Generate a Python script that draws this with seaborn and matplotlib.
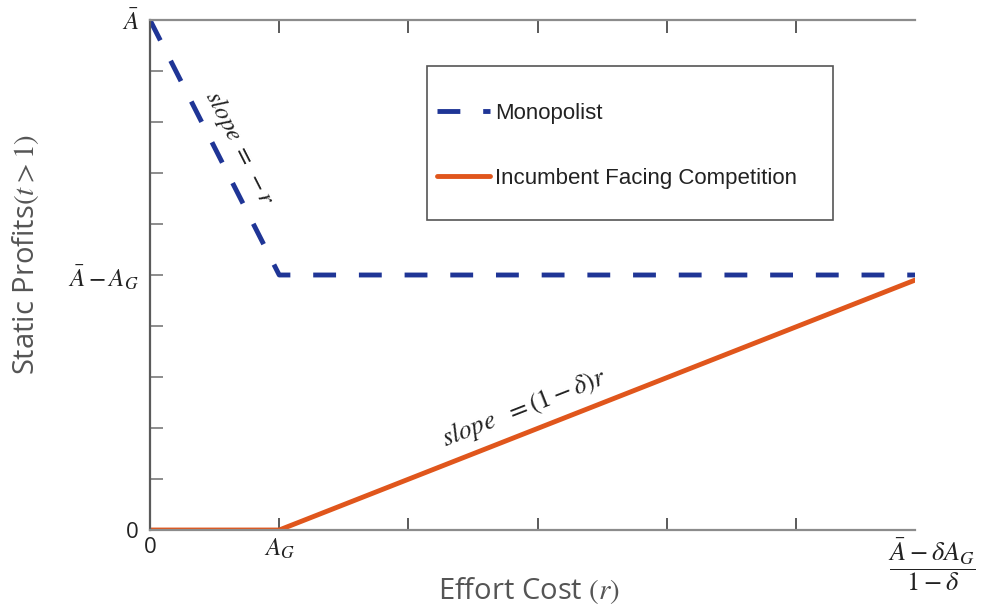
import matplotlib
matplotlib.use("Agg")
import matplotlib.pyplot as plt
from matplotlib.patches import Rectangle
import seaborn as sns

sns.set_theme(style="white")
plt.rcParams["font.family"] = ["Open Sans", "DejaVu Sans"]
plt.rcParams["mathtext.fontset"] = "stix"

# ── Data (A_G = 5 units on x, A_bar = 10 units on y) ─────────────────────────
mono_r = [0.0, 5.0, 29.6]
mono_profit = [10.0, 5.0, 5.0]
comp_r = [0.0, 5.0, 29.6]
comp_profit = [0.0, 0.0, 4.9]

x_ticks = [0, 5, 10, 15, 20, 25]
x_labels = ["0", r"$A_G$", "", "", "", ""]
x_end_label = r"$\dfrac{\bar{A}-\delta A_G}{1-\delta}$"
y_ticks = [0, 1, 2, 3, 4, 5, 6, 7, 8, 9, 10]
y_labels = ["0", "", "", "", "", r"$\bar{A}-A_G$", "", "", "", "", r"$\bar{A}$"]

NAVY = "#1f3596"
ORANGE = "#e0561c"
TEXT = "#222222"

fig = plt.figure(figsize=(9.81, 6.13), dpi=100)
ax = fig.add_axes([150 / 981, 1 - 530 / 613, 765 / 981, 510 / 613])

sns.lineplot(x=mono_r, y=mono_profit, ax=ax, color=NAVY, linewidth=3.5,
             linestyle=(0, (4.7, 4.7)), label="Monopolist", sort=False)
sns.lineplot(x=comp_r, y=comp_profit, ax=ax, color=ORANGE, linewidth=3.5,
             label="Incumbent Facing Competition", sort=False)

ax.set_xlim(0, 29.6)
ax.set_ylim(0, 10)

# spines
for side in ["top", "bottom"]:
    ax.spines[side].set_color("#8c8c8c")
    ax.spines[side].set_linewidth(1.6)
ax.spines["left"].set_color("#5a5a5a")
ax.spines["left"].set_linewidth(1.6)
ax.spines["right"].set_visible(False)

ax.set_xticks(x_ticks)
ax.set_xticklabels(x_labels)
ax.set_yticks(y_ticks)
ax.set_yticklabels(y_labels)
ax.tick_params(axis="x", direction="in", length=9, width=1.4, color="#5a5a5a",
               top=True, bottom=True, labelsize=18, pad=5, labelcolor=TEXT)
ax.tick_params(axis="y", direction="in", length=9, width=1.4, color="#8c8c8c",
               left=True, labelsize=18, pad=8, labelcolor=TEXT)
for lbl in ax.get_xticklabels()[:1] + ax.get_yticklabels()[:1]:
    lbl.set_fontsize(16)

ax.annotate(x_end_label, xy=(29.6, 0), xytext=(12, -5), textcoords="offset points",
            ha="center", va="top", fontsize=19, color=TEXT)

ax.set_xlabel("Effort Cost $(r)$", fontsize=21, color="#555555")
ax.set_ylabel("Static Profits$(t>1)$", fontsize=21, color="#555555")
ax.xaxis.set_label_coords(0.495, -0.088)
ax.yaxis.set_label_coords(-0.143, 0.54)

# slope annotations
ax.text(3.48, 7.49, r"$slope\ =\ -r$", rotation=-63, ha="center", va="center",
        fontsize=18, color=TEXT, rotation_mode="anchor")
ax.text(14.5, 2.39, r"$slope\ \ =(1-\delta)r$", rotation=21.4, ha="center",
        va="center", fontsize=19, color=TEXT, rotation_mode="anchor")

# legend with a separate frame box
leg = ax.legend(loc="center left", bbox_to_anchor=(437 / 981, 1 - 146 / 613),
                bbox_transform=fig.transFigure, frameon=False, fontsize=16,
                handlelength=2.4, handletextpad=0.2, labelspacing=2.0,
                borderpad=0, borderaxespad=0)
for t in leg.get_texts():
    t.set_color(TEXT)
    t.set_family(["Liberation Sans", "DejaVu Sans"])
fig.add_artist(Rectangle((427 / 981, 1 - 220 / 613), 406 / 981, 154 / 613,
                         transform=fig.transFigure, fill=False,
                         edgecolor="#555555", linewidth=1.2))

fig.savefig("out.png", dpi=100)
